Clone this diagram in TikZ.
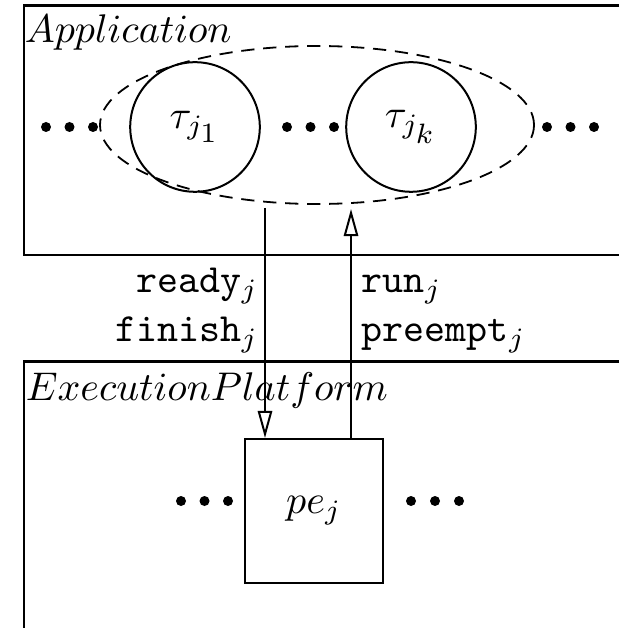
\documentclass[tikz,border=0pt]{standalone}
\usetikzlibrary{shapes.geometric,arrows.meta}
\begin{document}
\begin{tikzpicture}[x=0.25pt,y=-0.25pt,
  frame/.style={line width=0.6pt},
  task/.style={circle,draw,line width=0.5pt,minimum size=32.4pt,inner sep=0pt},
  group/.style={ellipse,draw,line width=0.45pt,dash pattern=on 3.3pt off 2.2pt,
    minimum width=108.5pt,minimum height=39.5pt,inner sep=0pt},
  pebox/.style={rectangle,draw,line width=0.5pt,minimum width=34.5pt,minimum height=36pt,inner sep=0pt},
  sig/.style={line width=0.5pt,-{Triangle[open,length=6.8pt,width=3.6pt,line width=0.5pt]}},
  dot/.style={fill=black,draw=none}]
\useasboundingbox (0,0) rectangle (619,628);

% application layer frame (open on the right)
\coordinate (appTR) at (619,5.5);
\coordinate (appTL) at (24,5.5);
\coordinate (appBL) at (24,255);
\coordinate (appBR) at (619,255);
\draw[frame] (appTR) -- (appTL) -- (appBL) -- (appBR);
\node[anchor=base west,inner sep=0pt] (appname) at (24,43) {$Application$};

% execution platform frame
\coordinate (epTR) at (619,361.5);
\coordinate (epTL) at (24,361.5);
\coordinate (epBL) at (24,628);
\draw[frame] (epTR) -- (epTL) -- (epBL);
\node[anchor=base west,inner sep=0pt] (epname) at (25,400) {$ExecutionPlatform$};

% tasks mapped to the processing element
\node[group] (grp) at (317,125) {};
\node[task] (t1) at (195,127) {$\tau_{j_{\scriptstyle 1}}$};
\node[task] (tk) at (411,127) {$\tau_{j_{\scriptstyle k}}$};

\foreach \x in {46,69.5,93,287,310.5,334,547,570.5,594}
  \fill[dot] (\x,127) circle (5);

% processing element
\node[pebox] (pe) at (314,511) {$pe_j$};
\foreach \x in {181,204.5,228,411,435,459}
  \fill[dot] (\x,501) circle (5);

% signals between the task group and the processing element
\coordinate (dtop) at (265,208);
\coordinate (utop) at (351,209);
\draw[sig] (dtop) -- (dtop |- pe.north);
\draw[sig] (utop |- pe.north) -- (utop);

\node[anchor=base east,inner sep=0pt] (lready) at (259,293) {\texttt{ready}$_j$};
\node[anchor=base east,inner sep=0pt] (lfinish) at (259,341) {\texttt{finish}$_j$};
\node[anchor=base west,inner sep=0pt] (lrun) at (361,293) {\texttt{run}$_j$};
\node[anchor=base west,inner sep=0pt] (lpre) at (361,341) {\texttt{preempt}$_j$};
\end{tikzpicture}
\end{document}
